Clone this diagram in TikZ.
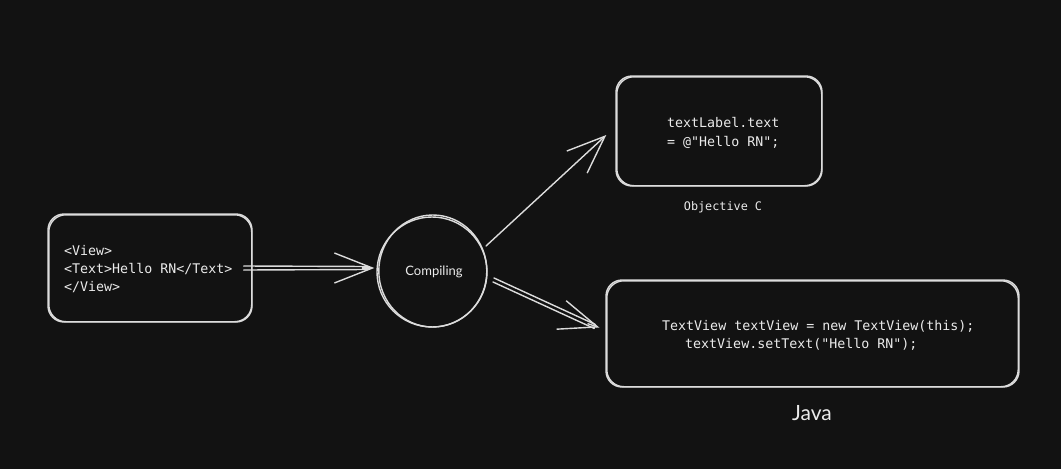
\documentclass[tikz,border=0pt]{standalone}
\usepackage{fontspec}
\setmonofont{DejaVu Sans Mono}
\setsansfont{Lato}
\usetikzlibrary{arrows.meta,calc}
\definecolor{bg}{HTML}{121212}
\definecolor{sk}{HTML}{DCDCDC}
\definecolor{tx}{HTML}{EBEBEB}
\begin{document}
\begin{tikzpicture}[x=1pt,y=-1pt,
  sketch/.style={draw=sk, line width=1.4pt, line cap=round, line join=round},
  box/.style={sketch, rounded corners=16pt, inner sep=0pt},
  circ/.style={sketch, circle, inner sep=0pt},
  code/.style={text=tx, font=\ttfamily\fontsize{13.3}{18}\selectfont, inner sep=0pt, anchor=west},
  captxt/.style={text=tx, inner sep=0pt},
  barb/.style={-{Straight Barb[length=38pt,width=30pt,line width=1.4pt]}},
]
\fill[bg] (0,0) rectangle (1061,469);
\useasboundingbox (0,0) rectangle (1061,469);

% boxes
\node[box, minimum width=204pt, minimum height=108pt] (src) at (150,268) {};
\draw[sketch, rounded corners=17pt] ([shift={(1.5,1.5)}]src.north west) rectangle ([shift={(-1,-1)}]src.south east);
\node[circ, minimum size=110pt] (comp) at (432,272) {};
\draw[sketch] ([shift={(0.8,-1)}]comp.center) ellipse [x radius=54pt, y radius=56pt];
\node[box, minimum width=206pt, minimum height=110pt] (objc) at (719,131) {};
\draw[sketch, rounded corners=17pt] ([shift={(1.5,1.5)}]objc.north west) rectangle ([shift={(-1,-1)}]objc.south east);
\node[box, minimum width=413pt, minimum height=107pt] (java) at (812.5,333.5) {};
\draw[sketch, rounded corners=17pt] ([shift={(1.5,1.5)}]java.north west) rectangle ([shift={(-1.5,-1)}]java.south east);

% texts
\node[code] (t1) at (64,251) {<View>};
\node[code] (t2) at (64,269) {<Text>Hello RN</Text>};
\node[code] (t3) at (64,287) {</View>};
\node[captxt, font=\sffamily\fontsize{13}{16}\selectfont] (ct) at (434,272) {Compiling};
\node[captxt, font=\ttfamily\fontsize{11.8}{14}\selectfont] (ol) at (723,207) {Objective C};
\node[code] (o1) at (667,123) {textLabel.text};
\node[code] (o2) at (667,142) {= @"Hello RN";};
\node[code] (j1) at (662,326) {TextView textView = new TextView(this);};
\node[code] (j2) at (685,344) {textView.setText("Hello RN");};
\node[captxt, font=\sffamily\fontsize{21}{24}\selectfont] (jl) at (812,413) {Java};

% connectors
\coordinate (tipA) at ($(comp.west)+(-2,-4)$);
\draw[sketch] ($(src.east)+(-9,-2)$) -- ($(tipA)+(-6,-1.5)$);
\draw[sketch] ($(src.east)+(-9,2)$) -- ($(tipA)+(-6,1.5)$);
\draw[sketch, barb] ($(tipA)+(-12,0)$) -- (tipA);

\draw[sketch, barb] ($(comp.center)+(54,-26)$) -- ($(objc.west)+(-9,4)$);

\coordinate (tipB) at ($(java.west)+(-6,-6)$);
\draw[sketch] ($(comp.center)+(62,6)$) -- ($(tipB)+(-4,-3)$);
\draw[sketch] ($(comp.center)+(61,10)$) -- ($(tipB)+(-5,1)$);
\draw[sketch, barb] ($(tipB)!12pt!(comp.center)$) -- (tipB);
\end{tikzpicture}
\end{document}
